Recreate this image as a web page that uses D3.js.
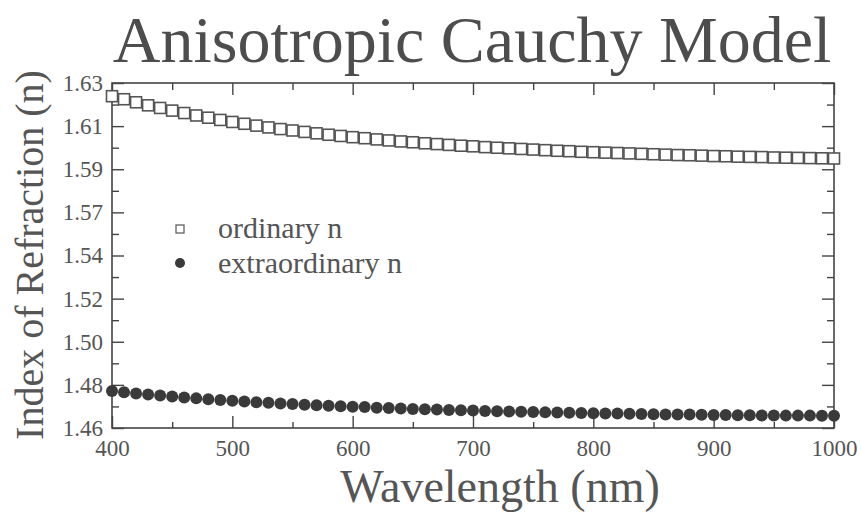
<!DOCTYPE html>
<html>
<head>
<meta charset="utf-8">
<script src="https://cdn.jsdelivr.net/npm/d3@7"></script>
<style>
  body { margin: 0; background: #fff; }
  svg text { font-family: "Liberation Serif", "Times New Roman", serif; fill: #555; }
  .axis path { display: none; }
  .axis line { stroke: #444; stroke-width: 1.4; }
</style>
</head>
<body>
<svg width="861" height="516"></svg>
<script>
// wavelength (nm)
var wavelength = [400,410,420,430,440,450,460,470,480,490,500,510,520,530,540,550,560,570,580,590,
  600,610,620,630,640,650,660,670,680,690,700,710,720,730,740,750,760,770,780,790,
  800,810,820,830,840,850,860,870,880,890,900,910,920,930,940,950,960,970,980,990,1000];

var ordinaryN = [1.6235,1.6220,1.6205,1.6190,1.6177,1.6164,1.6152,1.6140,1.6129,1.6118,
  1.6108,1.6099,1.6090,1.6081,1.6073,1.6066,1.6059,1.6052,1.6045,1.6039,
  1.6033,1.6028,1.6022,1.6017,1.6012,1.6008,1.6003,1.5999,1.5995,1.5991,
  1.5988,1.5984,1.5981,1.5978,1.5975,1.5972,1.5969,1.5966,1.5964,1.5961,
  1.5959,1.5957,1.5955,1.5953,1.5951,1.5949,1.5947,1.5945,1.5944,1.5942,
  1.5940,1.5939,1.5937,1.5936,1.5935,1.5933,1.5932,1.5931,1.5930,1.5929,1.5928];

var extraordinaryN = [1.4782,1.4776,1.4770,1.4765,1.4760,1.4755,1.4750,1.4746,1.4742,1.4738,
  1.4734,1.4731,1.4727,1.4724,1.4721,1.4718,1.4715,1.4712,1.4710,1.4707,
  1.4705,1.4703,1.4700,1.4698,1.4696,1.4694,1.4692,1.4691,1.4689,1.4687,
  1.4686,1.4684,1.4683,1.4681,1.4680,1.4679,1.4677,1.4676,1.4675,1.4674,
  1.4673,1.4672,1.4671,1.4670,1.4669,1.4668,1.4667,1.4666,1.4666,1.4665,
  1.4664,1.4664,1.4663,1.4663,1.4662,1.4662,1.4661,1.4661,1.4661,1.4660,1.4660];

var xTicks = [400,500,600,700,800,900,1000];
var yTickLabels = ["1.46","1.48","1.50","1.52","1.54","1.57","1.59","1.61","1.63"];

var serif = "'Liberation Serif', 'Times New Roman', serif";

var svg = d3.select("svg"),
    margin = {top: 83, right: 27, bottom: 88, left: 112},
    width = 861 - margin.left - margin.right,
    height = 516 - margin.top - margin.bottom,
    g = svg.append("g").attr("transform", "translate(" + margin.left + "," + margin.top + ")");

var x = d3.scaleLinear().domain([400, 1000]).range([0, width]),
    y = d3.scaleLinear().domain([1.46, 1.63]).range([height, 0]);

var yMajor = d3.range(9).map(function(i) { return 1.46 + i * 0.17 / 8; }),
    yMinor = d3.range(8).map(function(i) { return 1.46 + (i + 0.5) * 0.17 / 8; }),
    xMinor = d3.range(450, 1000, 100);

// frame
g.append("rect")
    .attr("width", width)
    .attr("height", height)
    .attr("fill", "none")
    .attr("stroke", "#444")
    .attr("stroke-width", 1.6);

// bottom
g.append("g").attr("class", "axis")
    .attr("transform", "translate(0," + height + ")")
    .call(d3.axisBottom(x).tickValues(xTicks).tickSize(-12).tickPadding(12).tickFormat(d3.format("d")))
    .attr("font-family", serif)
    .selectAll("text").style("font-size", "23px");
g.append("g").attr("class", "axis")
    .attr("transform", "translate(0," + height + ")")
    .call(d3.axisBottom(x).tickValues(xMinor).tickSize(-6).tickFormat(""));
// top
g.append("g").attr("class", "axis")
    .call(d3.axisTop(x).tickValues(xTicks).tickSize(-12).tickFormat(""));
g.append("g").attr("class", "axis")
    .call(d3.axisTop(x).tickValues(xMinor).tickSize(-7).tickFormat(""));
// left
g.append("g").attr("class", "axis")
    .call(d3.axisLeft(y).tickValues(yMajor).tickSize(-12).tickPadding(9)
        .tickFormat(function(d, i) { return yTickLabels[i]; }))
    .attr("font-family", serif)
    .selectAll("text").style("font-size", "23px");
g.append("g").attr("class", "axis")
    .call(d3.axisLeft(y).tickValues(yMinor).tickSize(-7).tickFormat(""));
// right
g.append("g").attr("class", "axis")
    .attr("transform", "translate(" + width + ",0)")
    .call(d3.axisRight(y).tickValues(yMajor).tickSize(-12).tickFormat(""));
g.append("g").attr("class", "axis")
    .attr("transform", "translate(" + width + ",0)")
    .call(d3.axisRight(y).tickValues(yMinor).tickSize(-7).tickFormat(""));

// extraordinary: filled circles
g.selectAll(".ext")
    .data(wavelength)
    .enter().append("circle")
    .attr("class", "ext")
    .attr("cx", function(d) { return x(d); })
    .attr("cy", function(d, i) { return y(extraordinaryN[i]); })
    .attr("r", 6)
    .attr("fill", "#3a3a3a");

// ordinary: open squares
g.selectAll(".ord")
    .data(wavelength)
    .enter().append("rect")
    .attr("class", "ord")
    .attr("x", function(d) { return x(d) - 5.5; })
    .attr("y", function(d, i) { return y(ordinaryN[i]) - 5.5; })
    .attr("width", 11)
    .attr("height", 11)
    .attr("fill", "#fff")
    .attr("stroke", "#555")
    .attr("stroke-width", 1.6);

// legend
var legend = svg.append("g");
legend.append("rect")
    .attr("x", 176).attr("y", 225).attr("width", 8).attr("height", 8)
    .attr("fill", "#fff").attr("stroke", "#555").attr("stroke-width", 1.2);
legend.append("text")
    .attr("x", 218).attr("y", 238)
    .style("font-size", "30px")
    .text("ordinary n");
legend.append("circle")
    .attr("cx", 180).attr("cy", 263).attr("r", 5)
    .attr("fill", "#3a3a3a");
legend.append("text")
    .attr("x", 218).attr("y", 273)
    .style("font-size", "30px")
    .text("extraordinary n");

// titles
svg.append("text")
    .attr("x", 472).attr("y", 62)
    .attr("text-anchor", "middle")
    .style("font-size", "66px")
    .style("fill", "#4d4d4d")
    .text("Anisotropic Cauchy Model");

svg.append("text")
    .attr("x", 500).attr("y", 502)
    .attr("text-anchor", "middle")
    .style("font-size", "46px")
    .text("Wavelength (nm)");

svg.append("text")
    .attr("transform", "translate(43,255) rotate(-90)")
    .attr("text-anchor", "middle")
    .style("font-size", "40px")
    .text("Index of Refraction (n)");
</script>
</body>
</html>
